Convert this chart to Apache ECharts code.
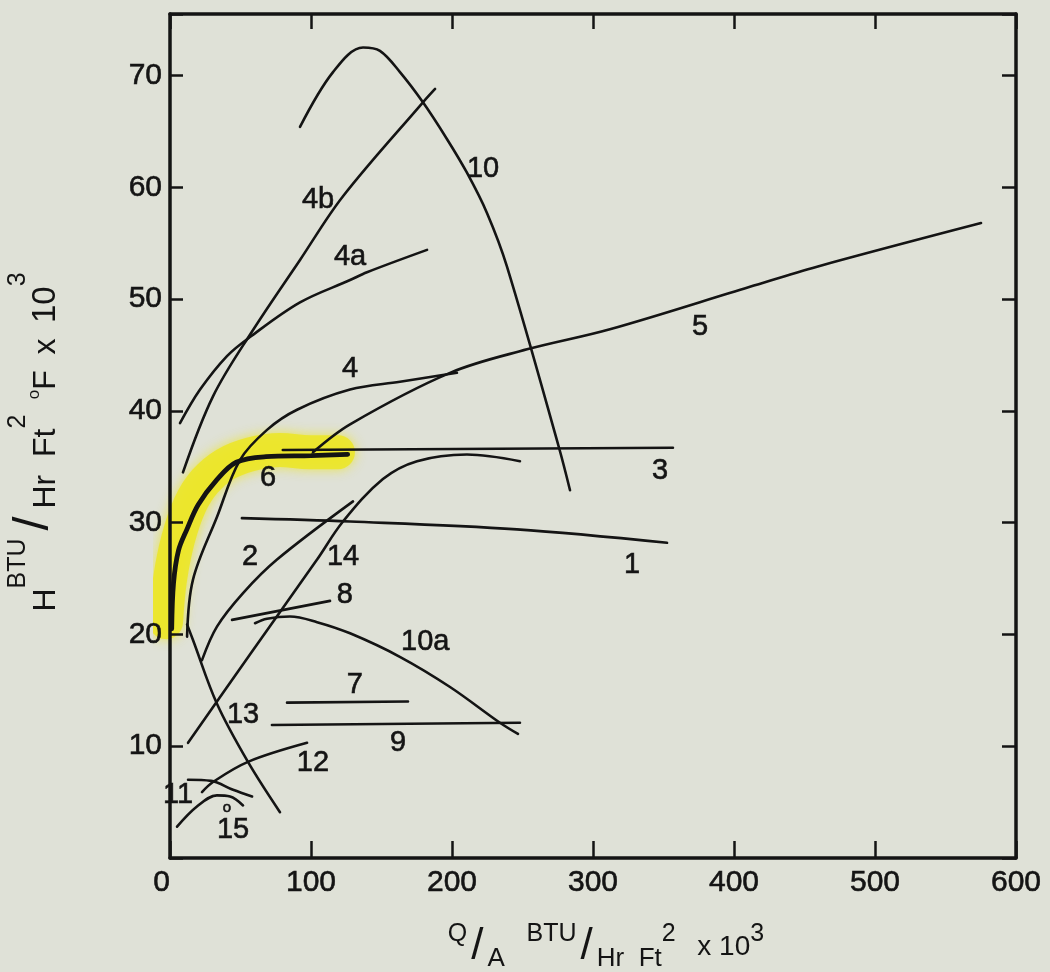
<!DOCTYPE html>
<html>
<head>
<meta charset="utf-8">
<script src="https://cdn.jsdelivr.net/npm/echarts@6/dist/echarts.min.js"></script>
<style>
  html, body { margin: 0; background: #dfe1d7; }
  #chart { width: 1050px; height: 972px; }
</style>
</head>
<body>
<div id="chart"></div>
<script>
// curves: [Q/A, H]
const curve1 = [[51, 30.4], [127.7, 30.1], [246, 29.4], [352.5, 28.2]];
const curve2 = [[22.7, 17.7], [33.3, 20.7], [51.8, 23.7], [75.9, 26.7], [129.8, 31.9]];
const curve3 = [[80, 36.5], [356.7, 36.7]];
const curve4 = [[12.1, 19.8], [16.3, 24.9], [33.3, 30.5], [49.6, 35.6], [68.8, 38.3], [90.1, 40.1], [127.7, 41.9], [163.1, 42.6], [203.5, 43.4]];
const curve4a = [[7.1, 38.9], [21.3, 41.9], [40.4, 44.9], [56.7, 46.6], [92.2, 49.7], [127.7, 51.7], [139.7, 52.4], [182.3, 54.4]];
const curve4b = [[9.2, 34.5], [30.5, 41.3], [58.2, 47.1], [92.2, 53.5], [122.7, 59.2], [179.4, 67.6], [188, 68.8]];
const curve5 = [[101.4, 36.3], [127.7, 38.8], [198.6, 43.4], [253.2, 45.5], [312, 47.3], [411.3, 51.1], [458.9, 52.9], [575.2, 56.8]];
const curve6 = [[1.2, 20.5], [2.5, 24.6], [6, 27.5], [12, 29.4], [20, 31.6], [33, 33.8], [47, 35.4], [68, 35.9], [100, 36.0], [126, 36.1]];
const curve7 = [[83, 13.9], [168.8, 14.0]];
const curve8 = [[44, 21.3], [113.5, 23.0]];
const curve9 = [[72.3, 11.9], [248.2, 12.1]];
const curve10 = [[92.2, 65.4], [115.6, 70.3], [136.9, 72.5], [148.9, 72.2], [163.1, 70.3], [179.4, 67.6], [196.5, 64.3], [210.6, 61.3], [224.8, 57.7], [239, 52.9], [275.9, 36.7], [283.7, 32.9]];
const curve10a = [[60.3, 21.0], [68.8, 21.4], [85.1, 21.6], [104.3, 21.1], [127.7, 20.1], [163, 18.0], [198.6, 15.3], [234, 12.1], [246.8, 11.1]];
const curve11 = [[12.8, 7.0], [29.1, 6.9], [44.7, 6.1], [58.2, 5.5]];
const curve12 = [[22.7, 5.9], [30.5, 6.8], [55.3, 8.6], [97.2, 10.3]];
const curve13 = [[12.1, 20.9], [16.3, 19.5], [33.3, 13.8], [55.3, 8.6], [78, 4.1]];
const curve14 = [[12.8, 10.3], [56.7, 18.2], [104.3, 26.7], [122.7, 30.1], [151, 33.9], [175.2, 35.5], [210.6, 36.1], [248.2, 35.5]];
const curve15 = [[5, 2.8], [19.1, 4.6], [33.3, 5.6], [42.6, 5.5], [51.8, 4.7]];
// yellow marker stroke along curve 6
const highlight = [[-2.8, 21.1], [0, 24.9], [5.7, 28.5], [14.2, 31.6], [24.8, 33.7], [39, 35.2], [56.7, 36.1], [78, 36.5], [99.3, 36.3], [119.1, 36.3]];

const labelNames = ['10', '4b', '4a', '4', '5', '3', '1', '6', '2', '14', '8', '10a', '7', '13', '9', '12', '11', '15', 'o'];
const labelX = [222, 105, 127.7, 127.7, 376, 347.5, 327.7, 69.5, 56.7, 122.7, 124, 181, 131, 51.8, 161.7, 101.4, 5.7, 44.7, 40.4];
const labelY = [61.6, 58.9, 53.8, 43.7, 47.5, 34.6, 26.2, 34.0, 26.9, 26.9, 23.5, 19.3, 15.5, 12.8, 10.3, 8.5, 5.6, 2.5, 4.5];

const xTickLabels = ['0', '100', '200', '300', '400', '500', '600'];
const yTickLabels = ['10', '20', '30', '40', '50', '60', '70'];

const ink = '#141414';
const font = '"Liberation Sans", Arial, sans-serif';

const curves = [curve1, curve2, curve3, curve4, curve4a, curve4b, curve5, curve6, curve7,
  curve8, curve9, curve10, curve10a, curve11, curve12, curve13, curve14, curve15];

const myChart = echarts.init(document.getElementById('chart'));

const lineSeries = curves.map(function (d) {
  return {
    type: 'line',
    data: d,
    showSymbol: false,
    smooth: 0.35,
    z: 3,
    lineStyle: { color: ink, width: d === curve6 ? 4.8 : 2.6, cap: 'round' },
  };
});

const option = {
  backgroundColor: '#dfe1d7',
  animation: false,
  grid: { left: 170, right: 34, top: 14, bottom: 114, outerBoundsMode: 'none' },
  xAxis: [
    {
      type: 'value',
      min: 0,
      max: 600,
      interval: 100,
      position: 'bottom',
      axisLine: { onZero: false, lineStyle: { color: ink, width: 3.5 } },
      axisTick: { inside: true, length: 17, lineStyle: { color: ink, width: 2.5 } },
      splitLine: { show: false },
      axisLabel: {
        margin: 10,
        color: ink,
        fontSize: 30,
        fontFamily: font,
        textBorderColor: ink,
        textBorderWidth: 0.6,
        alignMinLabel: 'right',
        formatter: function (v) { return xTickLabels[Math.round(v / 100)]; },
      },
      name: '{s|Q}{sl|/}{b|A}   {s|BTU}{sl|/}{b|Hr  Ft}{s|2}   {m|x 10}{s|3}',
      nameLocation: 'middle',
      nameGap: 64,
      nameTextStyle: {
        color: ink,
        fontFamily: font,
        fontSize: 26,
        padding: [0, 0, 0, 26],
        rich: {
          s: { fontSize: 25, fontFamily: font, color: ink, verticalAlign: 'top' },
          b: { fontSize: 26, fontFamily: font, color: ink, verticalAlign: 'bottom' },
          m: { fontSize: 28, fontFamily: font, color: ink, verticalAlign: 'middle' },
          sl: { fontSize: 44, fontFamily: font, color: ink, lineHeight: 50, verticalAlign: 'middle', padding: [0, 4, 0, 4] },
        },
      },
    },
    {
      type: 'value',
      min: 0,
      max: 600,
      interval: 100,
      position: 'top',
      axisLine: { onZero: false, lineStyle: { color: ink, width: 3.5 } },
      axisTick: { inside: true, length: 15, lineStyle: { color: ink, width: 2.5 } },
      axisLabel: { show: false },
      splitLine: { show: false },
    },
  ],
  yAxis: [
    {
      type: 'value',
      min: 0,
      max: 75.5,
      interval: 10,
      position: 'left',
      z: 2,
      axisLine: { onZero: false, lineStyle: { color: ink, width: 3.5 } },
      axisTick: { inside: true, length: 13, lineStyle: { color: ink, width: 2.5 } },
      splitLine: { show: false },
      axisLabel: {
        margin: 8,
        color: ink,
        fontSize: 30,
        fontFamily: font,
        textBorderColor: ink,
        textBorderWidth: 0.6,
        formatter: function (v) {
          const i = Math.round(v / 10) - 1;
          return v % 10 === 0 && i >= 0 ? yTickLabels[i] : '';
        },
      },
      name: '{b|H}{s|BTU}{sl|/}{b|Hr  Ft}{s|2}  {o|o}{b|F}  {b|x}  {t|10}{s|3}',
      nameLocation: 'middle',
      nameRotate: 90,
      nameGap: 108,
      nameTextStyle: {
        color: ink,
        fontFamily: font,
        fontSize: 28,
        padding: [0, 12, 0, 0],
        rich: {
          s: { fontSize: 25, fontFamily: font, color: ink, verticalAlign: 'top' },
          b: { fontSize: 32, fontFamily: font, color: ink, verticalAlign: 'bottom' },
          t: { fontSize: 33, fontFamily: font, color: ink, verticalAlign: 'bottom' },
          o: { fontSize: 17, fontFamily: font, color: ink, verticalAlign: 'middle' },
          sl: { fontSize: 50, fontFamily: font, color: ink, lineHeight: 56, verticalAlign: 'middle', padding: [0, 8, 0, 8] },
        },
      },
    },
    {
      type: 'value',
      min: 0,
      max: 75.5,
      interval: 10,
      position: 'right',
      axisLine: { onZero: false, lineStyle: { color: ink, width: 3.5 } },
      axisTick: { inside: true, length: 14, lineStyle: { color: ink, width: 2.5 } },
      axisLabel: { show: false },
      splitLine: { show: false },
    },
  ],
  series: [
    {
      type: 'line',
      data: highlight,
      showSymbol: false,
      smooth: 0.4,
      clip: false,
      z: 1,
      lineStyle: {
        color: 'rgba(236,230,40,0.88)',
        width: 34,
        cap: 'round',
        join: 'round',
        shadowBlur: 12,
        shadowColor: 'rgba(236,230,40,0.9)',
      },
    },
  ].concat(lineSeries, [
    {
      type: 'scatter',
      symbolSize: 0,
      itemStyle: { color: ink, opacity: 1 },
      z: 4,
      data: labelNames.map(function (n, i) {
        const item = { name: n, value: [labelX[i], labelY[i]] };
        if (n === 'o') item.label = { fontSize: 15 };
        return item;
      }),
      label: {
        show: true,
        position: 'inside',
        formatter: '{b}',
        color: ink,
        opacity: 1,
        textBorderColor: ink,
        textBorderWidth: 0.6,
        fontFamily: font,
        fontSize: 29,
      },
    },
  ]),
};

myChart.setOption(option);
</script>
</body>
</html>
